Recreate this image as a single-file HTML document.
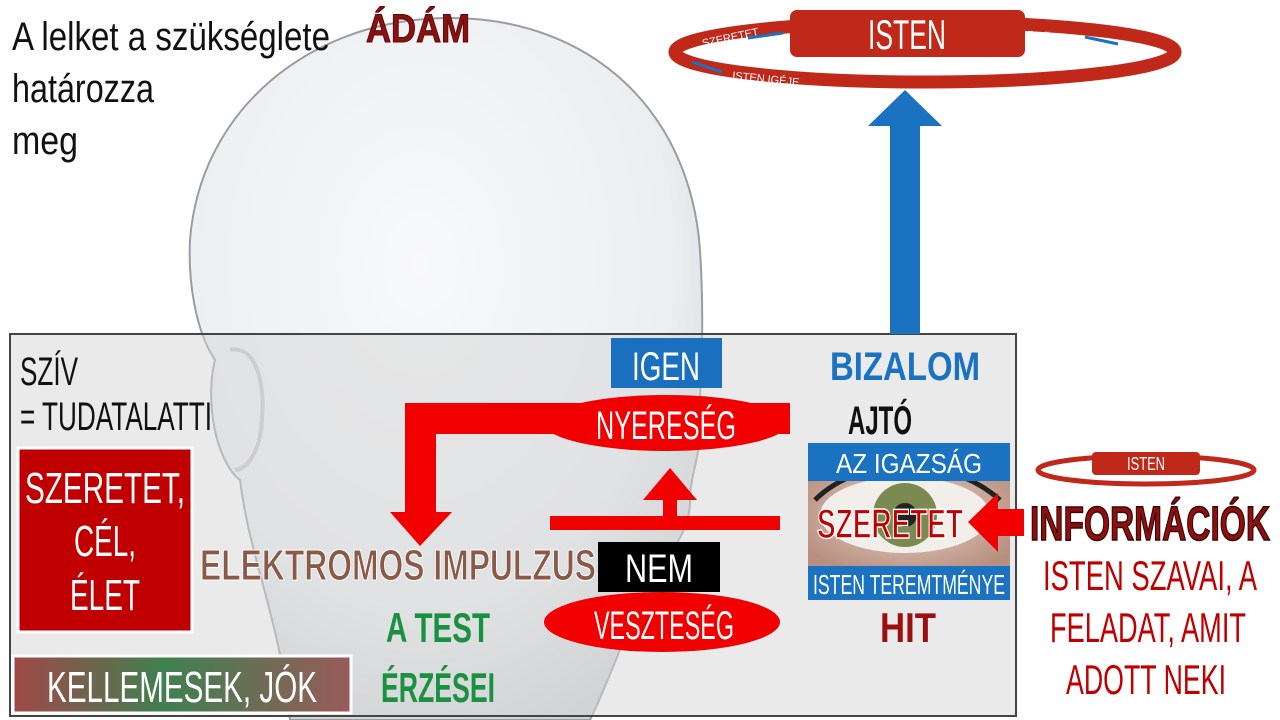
<!DOCTYPE html>
<html><head><meta charset="utf-8"><style>
html,body{margin:0;padding:0;background:#fff;width:1280px;height:720px;overflow:hidden}
text{font-family:"Liberation Sans Narrow","Liberation Sans",sans-serif}
</style></head><body>
<svg width="1280" height="720" viewBox="0 0 1280 720" xmlns="http://www.w3.org/2000/svg">
<defs>
<radialGradient id="hg" cx="0.45" cy="0.35" r="0.7">
<stop offset="0" stop-color="#f8f9fa"/><stop offset="0.7" stop-color="#eceef1"/><stop offset="1" stop-color="#cfd1d6"/>
</radialGradient>
<linearGradient id="kg" x1="0" x2="1"><stop offset="0" stop-color="#a04848"/><stop offset="0.45" stop-color="#3f8050"/><stop offset="1" stop-color="#9a5a5a"/></linearGradient>
<radialGradient id="eye" cx="0.5" cy="0.5" r="0.6"><stop offset="0" stop-color="#e8d6cc"/><stop offset="1" stop-color="#b89080"/></radialGradient>
</defs>
<path d="M450 18 C590 18 690 110 700 250 C705 330 700 380 700 400 C705 450 690 470 690 500 C690 540 660 560 640 600 C620 650 600 700 590 720 L290 720 C280 620 250 560 240 480 C215 460 205 400 215 360 C195 330 188 280 190 240 C200 110 310 18 450 18 Z" fill="url(#hg)" stroke="#9a9ca2" stroke-width="2"/>
<path d="M230 350 C255 345 265 380 262 420 C260 455 245 470 235 470" fill="none" stroke="#c4c6cc" stroke-width="4"/>
<rect x="10" y="334" width="1006" height="382" fill="#d6d6d6" fill-opacity="0.5" stroke="#444" stroke-width="2"/>
<text x="12" y="50" font-size="40" fill="#111" textLength="318" lengthAdjust="spacingAndGlyphs">A lelket a szükséglete</text>
<text x="12" y="102" font-size="40" fill="#111" textLength="142" lengthAdjust="spacingAndGlyphs">határozza</text>
<text x="12" y="154" font-size="40" fill="#111" textLength="66" lengthAdjust="spacingAndGlyphs">meg</text>
<text x="366" y="42" font-size="40" font-weight="bold" fill="#8b1010" stroke="#5a0a0a" stroke-width="1" textLength="104" lengthAdjust="spacingAndGlyphs">ÁDÁM</text>
<ellipse cx="925" cy="52" rx="250" ry="30" fill="none" stroke="#c0281a" stroke-width="13"/>
<rect x="790" y="10" width="235" height="47" rx="7" fill="#c0281a"/>
<text x="907" y="49" font-size="42" fill="#fff" text-anchor="middle" textLength="78" lengthAdjust="spacingAndGlyphs">ISTEN</text>
<text x="703" y="47" font-size="11" fill="#fff" transform="rotate(-12 703 47)">SZERETET</text>
<path d="M748 38 L783 33" stroke="#1a72c0" stroke-width="3"/>
<text x="1026" y="38" font-size="11" fill="#fff" transform="rotate(8 1026 38)">GYÜMÖLCS</text>
<path d="M1085 37 L1118 44" stroke="#1a72c0" stroke-width="3"/>
<path d="M692 62 L722 72" stroke="#1a72c0" stroke-width="3"/>
<text x="732" y="79" font-size="11" fill="#fff" transform="rotate(6 732 79)">ISTEN IGÉJE</text>
<rect x="890" y="125" width="30" height="209" fill="#1a72c0"/>
<polygon points="868,126 942,126 905,90" fill="#1a72c0"/>
<text x="20" y="385" font-size="40" fill="#111" textLength="58" lengthAdjust="spacingAndGlyphs">SZÍV</text>
<text x="20" y="430" font-size="40" fill="#111" textLength="192" lengthAdjust="spacingAndGlyphs">= TUDATALATTI</text>
<rect x="18" y="448" width="174" height="184" fill="#c00000" stroke="#fff" stroke-width="3"/>
<text x="105" y="503" font-size="44" fill="#fff" text-anchor="middle" textLength="160" lengthAdjust="spacingAndGlyphs">SZERETET,</text>
<text x="105" y="556" font-size="44" fill="#fff" text-anchor="middle" textLength="62" lengthAdjust="spacingAndGlyphs">CÉL,</text>
<text x="105" y="610" font-size="44" fill="#fff" text-anchor="middle" textLength="70" lengthAdjust="spacingAndGlyphs">ÉLET</text>
<rect x="13" y="656" width="338" height="57" fill="url(#kg)" stroke="#fff" stroke-width="3"/>
<text x="182" y="702" font-size="44" fill="#fff" text-anchor="middle" textLength="270" lengthAdjust="spacingAndGlyphs">KELLEMESEK, JÓK</text>
<path d="M790 403 L405 403 L405 512 L390 512 L420 546 L452 512 L436 512 L436 434 L790 434 Z" fill="#f00000"/>
<rect x="611" y="338" width="111" height="50" fill="#1a6fbf"/>
<text x="666" y="380" font-size="40" fill="#fff" text-anchor="middle" textLength="68" lengthAdjust="spacingAndGlyphs">IGEN</text>
<ellipse cx="666" cy="423" rx="122" ry="28" fill="#f00000"/>
<text x="666" y="439" font-size="40" fill="#fff" text-anchor="middle" textLength="140" lengthAdjust="spacingAndGlyphs">NYERESÉG</text>
<text x="905" y="380" font-size="40" font-weight="bold" fill="#1a72c0" text-anchor="middle" textLength="150" lengthAdjust="spacingAndGlyphs">BIZALOM</text>
<text x="880" y="434" font-size="40" font-weight="bold" fill="#111" text-anchor="middle" textLength="64" lengthAdjust="spacingAndGlyphs">AJTÓ</text>
<rect x="808" y="458" width="202" height="110" fill="url(#eye)"/>
<ellipse cx="905" cy="515" rx="85" ry="38" fill="#f2eeea"/>
<circle cx="905" cy="515" r="32" fill="#7a8a50"/>
<circle cx="905" cy="515" r="12" fill="#222"/>
<path d="M815 500 C860 455 950 455 1000 500" fill="none" stroke="#222" stroke-width="5"/>
<rect x="808" y="443" width="202" height="38" fill="#1a72c0"/>
<text x="909" y="473" font-size="28" fill="#fff" text-anchor="middle" textLength="146" lengthAdjust="spacingAndGlyphs">AZ IGAZSÁG</text>
<rect x="808" y="566" width="202" height="34" fill="#1a72c0"/>
<text x="909" y="594" font-size="28" fill="#fff" text-anchor="middle" textLength="192" lengthAdjust="spacingAndGlyphs">ISTEN TEREMTMÉNYE</text>
<text x="890" y="538" font-size="42" font-weight="bold" fill="#c00000" stroke="#fff" stroke-width="1.5" text-anchor="middle" textLength="146" lengthAdjust="spacingAndGlyphs">SZERETET</text>
<polygon points="1024,509 998,509 998,493 968,522 998,552 998,536 1024,536" fill="#f00000"/>
<rect x="550" y="516" width="230" height="14" fill="#f00000"/>
<rect x="663" y="498" width="14" height="20" fill="#f00000"/>
<polygon points="643,500 697,500 670,468" fill="#f00000"/>
<rect x="598" y="542" width="122" height="50" fill="#000"/>
<text x="659" y="582" font-size="40" fill="#fff" text-anchor="middle" textLength="68" lengthAdjust="spacingAndGlyphs">NEM</text>
<text x="398" y="580" font-size="44" font-weight="bold" fill="#8a5a48" stroke="#fff" stroke-width="1" text-anchor="middle" textLength="396" lengthAdjust="spacingAndGlyphs">ELEKTROMOS IMPULZUS</text>
<text x="438" y="642" font-size="42" font-weight="bold" fill="#1a9040" text-anchor="middle" textLength="104" lengthAdjust="spacingAndGlyphs">A TEST</text>
<text x="438" y="702" font-size="42" font-weight="bold" fill="#1a9040" text-anchor="middle" textLength="114" lengthAdjust="spacingAndGlyphs">ÉRZÉSEI</text>
<ellipse cx="662" cy="622" rx="118" ry="30" fill="#f00000"/>
<text x="664" y="639" font-size="40" fill="#fff" text-anchor="middle" textLength="140" lengthAdjust="spacingAndGlyphs">VESZTESÉG</text>
<text x="908" y="642" font-size="42" font-weight="bold" fill="#9a1010" text-anchor="middle" textLength="56" lengthAdjust="spacingAndGlyphs">HIT</text>
<ellipse cx="1146" cy="470" rx="108" ry="14" fill="none" stroke="#c0281a" stroke-width="5"/>
<rect x="1092" y="452" width="108" height="23" rx="4" fill="#c0281a"/>
<text x="1146" y="470" font-size="18" fill="#fff" text-anchor="middle" textLength="38" lengthAdjust="spacingAndGlyphs">ISTEN</text>
<text x="1150" y="540" font-size="48" font-weight="bold" fill="#8b1010" stroke="#3a0505" stroke-width="1.5" text-anchor="middle" textLength="240" lengthAdjust="spacingAndGlyphs">INFORMÁCIÓK</text>
<text x="1150" y="590" font-size="42" fill="#c00000" text-anchor="middle" textLength="214" lengthAdjust="spacingAndGlyphs">ISTEN SZAVAI, A</text>
<text x="1148" y="642" font-size="42" fill="#c00000" text-anchor="middle" textLength="196" lengthAdjust="spacingAndGlyphs">FELADAT, AMIT</text>
<text x="1146" y="694" font-size="42" fill="#c00000" text-anchor="middle" textLength="160" lengthAdjust="spacingAndGlyphs">ADOTT NEKI</text>
</svg>
</body></html>
